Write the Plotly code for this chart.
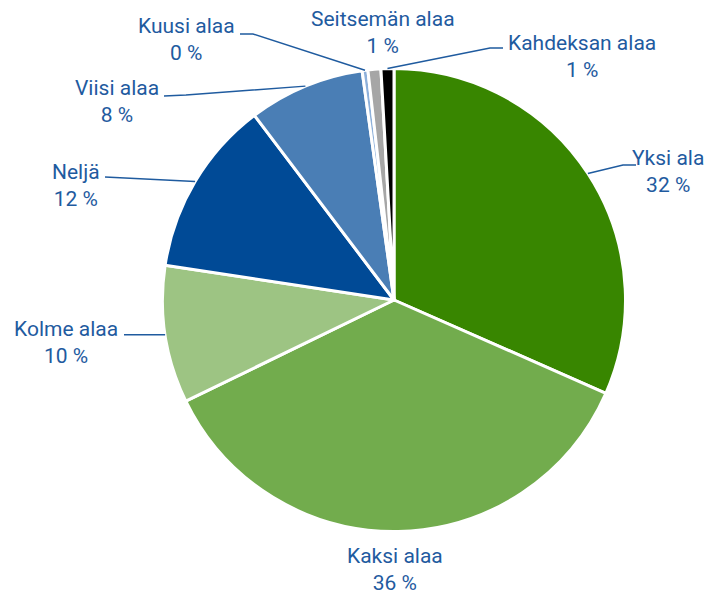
import math
import plotly.graph_objects as go

# ---- data ----
labels = ["Yksi ala", "Kaksi alaa", "Kolme alaa", "Neljä", "Viisi alaa",
          "Kuusi alaa", "Seitsemän alaa", "Kahdeksan alaa"]
values = [31.6, 36.2, 9.6, 12.3, 8.1, 0.4, 0.9, 0.9]
colors = ["#388600", "#72ac4d", "#9dc483", "#004a96", "#4a7eb5",
          "#8db0da", "#a6a6a6", "#000000"]

# ---- layout constants (screen pixels) ----
W, H = 713, 597
OFF = 8  # page body margin
CX, CY, R = 394, 300, 231.5
TXT = "#1f5b9f"
FONT = "Roboto"

# label block centres and leader-line elbows (screen pixels)
label_pos = [(668, 172), (395, 569), (66, 342), (76, 185), (117, 102),
             (186, 40), (383, 33), (582, 57)]
elbows = [[(623, 165), (636, 165)], None, [(124, None)], [(105, 177)],
          [(186, 95), (164, 96)], [(253, 34), (240, 34)], None,
          [(490, 48), (503, 48)]]


def px(x, y):
    return (x - OFF) / W, 1 - (y - OFF) / H


fig = go.Figure()
dx0, dx1 = (CX - OFF - R) / W, (CX - OFF + R) / W
dy0, dy1 = (H - (CY - OFF) - R) / H, (H - (CY - OFF) + R) / H
fig.add_trace(go.Pie(
    labels=labels, values=values, sort=False, direction="clockwise",
    rotation=0, marker=dict(colors=colors, line=dict(color="white", width=3)),
    textinfo="none", hoverinfo="label+percent", showlegend=False,
    domain=dict(x=[dx0, dx1], y=[dy0, dy1]),
))

total = sum(values)
cum = 0.0
shapes, annotations = [], []
for i, (lab, v) in enumerate(zip(labels, values)):
    mid = (cum + v / 2) / total * 2 * math.pi
    cum += v
    sx = CX + R * math.sin(mid)
    sy = CY - R * math.cos(mid)
    pct = f"{round(v / total * 100):d} %"
    tx, ty = label_pos[i]
    x, y = px(tx, ty)
    annotations.append(dict(
        x=x, y=y, xref="paper", yref="paper", text=f"{lab}<br>{pct}",
        showarrow=False, align="center", xanchor="center", yanchor="middle",
        font=dict(family=FONT, size=21, color=TXT),
    ))
    if elbows[i]:
        pts = [(sx, sy)]
        for ex, ey in elbows[i]:
            pts.append((ex, sy if ey is None else ey))
        path = ""
        for j, (a, b) in enumerate(pts):
            pa, pb = px(a, b)
            path += ("M" if j == 0 else " L") + f" {pa:.5f},{pb:.5f}"
        shapes.append(dict(type="path", path=path, xref="paper", yref="paper",
                           line=dict(color=TXT, width=1.5)))

fig.update_layout(
    width=W, height=H, margin=dict(l=0, r=0, t=0, b=0),
    paper_bgcolor="white", plot_bgcolor="white",
    shapes=shapes, annotations=annotations,
    font=dict(family=FONT, color=TXT),
)
fig.write_html("out.html")
